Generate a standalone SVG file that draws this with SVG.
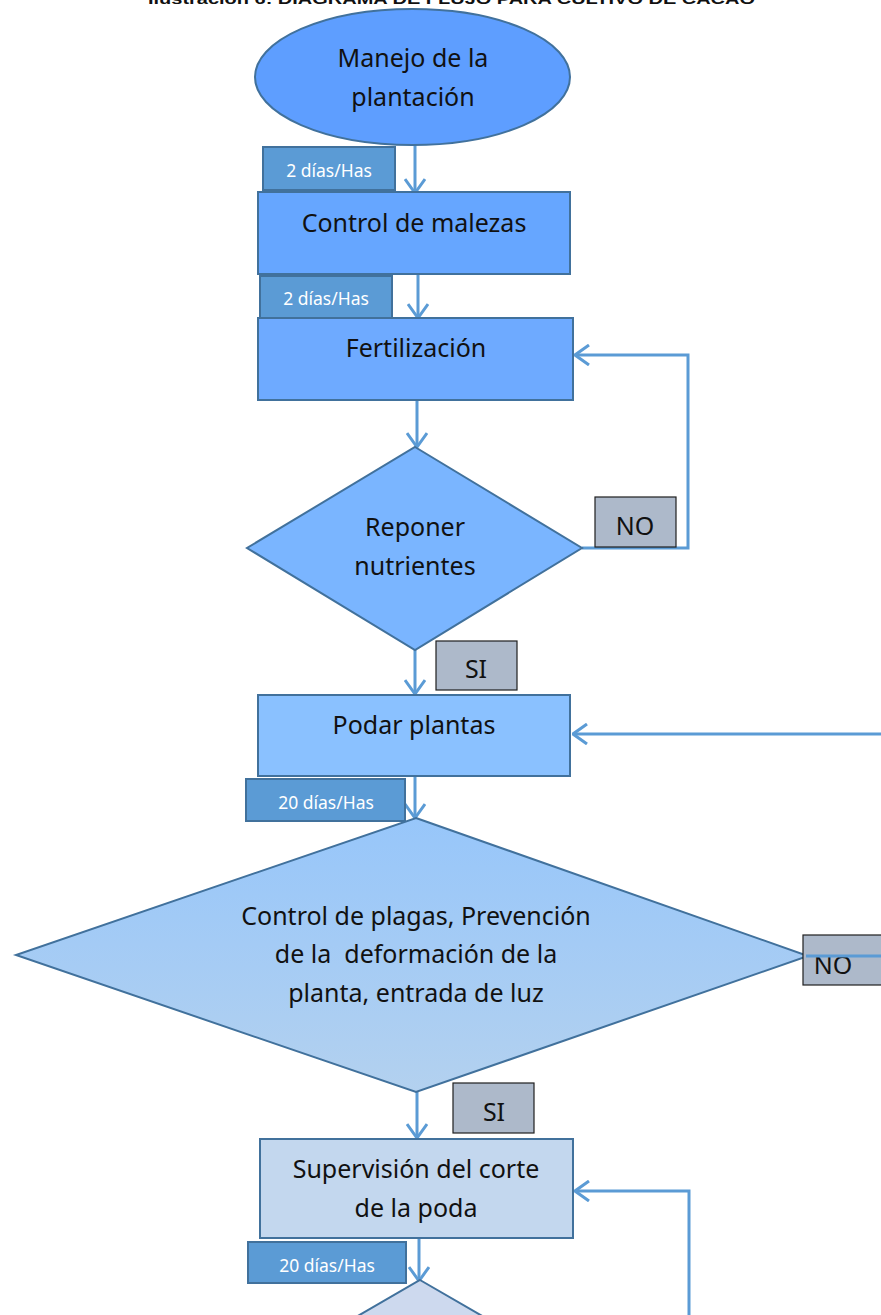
<svg xmlns="http://www.w3.org/2000/svg" width="881" height="1315" viewBox="0 0 881 1315">
  <style>
    .node { stroke: #41719C; stroke-width: 2; }
    .tag { fill: #5B9BD5; stroke: #41719C; stroke-width: 2; }
    .tagtxt { font-family: "Noto Sans", "Open Sans", sans-serif; font-size: 17.5px; fill: #ffffff; text-anchor: middle; }
    .ans { fill: #ADB9CA; stroke: #1f1f1f; stroke-width: 1.2; }
    .txt { font-family: "Noto Sans", "Open Sans", sans-serif; font-size: 25px; fill: #111111; text-anchor: middle; }
    .link { fill: none; stroke: #5B9BD5; stroke-width: 3; }
    .title { font-family: "Liberation Sans", Arial, sans-serif; font-size: 14px; font-weight: bold; fill: #111111; }
  </style>
  <defs>
    <marker id="chev" viewBox="0 0 16 22" refX="15" refY="11" markerWidth="16" markerHeight="22" markerUnits="userSpaceOnUse" orient="auto">
      <path d="M1,1 L15,11 L1,21" fill="none" stroke="#5B9BD5" stroke-width="3"/>
    </marker>
    <linearGradient id="bigFill" x1="0" y1="0" x2="0" y2="1">
      <stop offset="0" stop-color="#97C6FA"/>
      <stop offset="1" stop-color="#B3D1EF"/>
    </linearGradient>
  </defs>

  <rect width="881" height="1315" fill="#ffffff"/>

  <!-- caption, running off the top edge of the page -->
  <text class="title" x="148" y="4" textLength="607" lengthAdjust="spacingAndGlyphs">Ilustración 6: DIAGRAMA DE FLUJO PARA CULTIVO DE CACAO</text>

  <!-- connectors -->
  <g id="connectors">
    <line class="link" x1="415" y1="145" x2="415" y2="193" marker-end="url(#chev)"/>
    <line class="link" x1="418" y1="274" x2="418" y2="318" marker-end="url(#chev)"/>
    <line class="link" x1="417" y1="400" x2="417" y2="447" marker-end="url(#chev)"/>
    <polyline class="link" points="582,548 688,548 688,355 575,355" marker-end="url(#chev)"/>
    <line class="link" x1="415" y1="650" x2="415" y2="694" marker-end="url(#chev)"/>
    <line class="link" x1="881" y1="734" x2="573" y2="734" marker-end="url(#chev)"/>
    <line class="link" x1="415" y1="766" x2="415" y2="818" marker-end="url(#chev)"/>
    <line class="link" x1="417" y1="1092" x2="417" y2="1138" marker-end="url(#chev)"/>
    <polyline class="link" points="689,1315 689,1191 575,1191" marker-end="url(#chev)"/>
    <line class="link" x1="419" y1="1238" x2="419" y2="1281" marker-end="url(#chev)"/>
  </g>

  <g id="start">
    <ellipse class="node" cx="412.5" cy="77" rx="157.5" ry="68" fill="#5E9EFF"/>
    <text class="txt" x="413" y="67">Manejo de la</text>
    <text class="txt" x="413" y="106">plantación</text>
  </g>

  <g id="tag1">
    <rect class="tag" x="263" y="147" width="132" height="43"/>
    <text class="tagtxt" x="329" y="177">2 días/Has</text>
  </g>

  <g id="malezas">
    <rect class="node" x="258" y="192" width="312" height="82" fill="#66A6FF"/>
    <text class="txt" x="414" y="232">Control de malezas</text>
  </g>

  <g id="tag2">
    <rect class="tag" x="260" y="276" width="132" height="42"/>
    <text class="tagtxt" x="326" y="305">2 días/Has</text>
  </g>

  <g id="fertilizacion">
    <rect class="node" x="258" y="318" width="315" height="82" fill="#6EAAFF"/>
    <text class="txt" x="416" y="357">Fertilización</text>
  </g>

  <g id="reponer">
    <polygon class="node" points="415,447 582,548 415,650 247,548" fill="#7AB5FF"/>
    <text class="txt" x="415" y="536">Reponer</text>
    <text class="txt" x="415" y="575">nutrientes</text>
  </g>

  <g id="no1">
    <rect class="ans" x="595" y="497" width="81" height="50"/>
    <text class="txt" x="635" y="535">NO</text>
  </g>

  <g id="si1">
    <rect class="ans" x="436" y="641" width="81" height="49"/>
    <text class="txt" x="476" y="678">SI</text>
  </g>

  <g id="podar">
    <rect class="node" x="258" y="695" width="312" height="81" fill="#8AC1FF"/>
    <text class="txt" x="414" y="734">Podar plantas</text>
  </g>

  <g id="tag3">
    <rect class="tag" x="246" y="779" width="159" height="42"/>
    <text class="tagtxt" x="326" y="809">20 días/Has</text>
  </g>

  <g id="plagas">
    <polygon class="node" points="416,818 808,956 416,1092 16,955" fill="url(#bigFill)"/>
    <text class="txt" x="416" y="925">Control de plagas, Prevención</text>
    <text class="txt" x="416" y="963" xml:space="preserve">de la  deformación de la</text>
    <text class="txt" x="416" y="1002">planta, entrada de luz</text>
  </g>

  <g id="no2">
    <rect class="ans" x="803" y="935" width="82" height="50"/>
    <text class="txt" x="833" y="974">NO</text>
    <line class="link" x1="806" y1="956" x2="881" y2="956"/>
  </g>

  <g id="si2">
    <rect class="ans" x="453" y="1083" width="81" height="50"/>
    <text class="txt" x="494" y="1121">SI</text>
  </g>

  <g id="supervision">
    <rect class="node" x="260" y="1139" width="313" height="99" fill="#C3D7EE"/>
    <text class="txt" x="416" y="1178">Supervisión del corte</text>
    <text class="txt" x="416" y="1217">de la poda</text>
  </g>

  <g id="tag4">
    <rect class="tag" x="248" y="1242" width="158" height="41"/>
    <text class="tagtxt" x="327" y="1272">20 días/Has</text>
  </g>

  <g id="final">
    <polygon class="node" points="420,1280 484,1317 356,1317" fill="#CDD9EE"/>
  </g>
</svg>
